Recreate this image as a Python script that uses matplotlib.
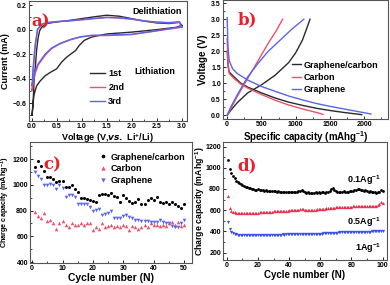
import numpy as np
import matplotlib
matplotlib.use("Agg")
from matplotlib import pyplot as plt
from matplotlib.ticker import AutoMinorLocator

plt.rcParams['font.family'] = ['Liberation Sans', 'DejaVu Sans']
plt.rcParams['font.weight'] = 'bold'
plt.rcParams['axes.labelweight'] = 'bold'
plt.rcParams['mathtext.default'] = 'regular'

# ---- panel a: CV loops (voltage V, current mA) ----
cv_v_1st = [3.0, 2.9, 2.5, 2.0, 1.5, 1.2, 1.05, 0.95, 0.88, 0.78, 0.7, 0.6, 0.5, 0.37, 0.27,
            0.17, 0.1, 0.05, 0.03, 0.01, 0.03, 0.05, 0.08, 0.1, 0.13, 0.16, 0.2, 0.3, 0.5,
            0.75, 1.0, 1.25, 1.5, 1.75, 2.0, 2.25, 2.5, 2.75, 2.95, 3.0]
cv_i_1st = [0.035, 0.02, 0.0, -0.02, -0.035, -0.06, -0.088, -0.13, -0.17, -0.2, -0.225, -0.265,
            -0.32, -0.35, -0.377, -0.42, -0.46, -0.53, -0.6, -0.7, -0.6, -0.42, -0.28, -0.17,
            -0.07, -0.01, 0.02, 0.05, 0.063, 0.075, 0.09, 0.105, 0.118, 0.11, 0.09, 0.07,
            0.055, 0.05, 0.06, 0.035]
cv_v_2nd = [3.0, 2.75, 2.5, 2.0, 1.5, 1.2, 0.98, 0.78, 0.57, 0.4, 0.27, 0.13, 0.07, 0.03, 0.01,
            0.03, 0.07, 0.12, 0.2, 0.3, 0.5, 0.75, 1.0, 1.25, 1.5, 1.75, 2.0, 2.25, 2.5, 2.75,
            2.95, 3.0]
cv_i_2nd = [0.02, 0.005, -0.01, -0.04, -0.048, -0.048, -0.06, -0.082, -0.115, -0.155, -0.21,
            -0.29, -0.36, -0.43, -0.5, -0.35, -0.15, 0.0, 0.04, 0.055, 0.065, 0.072, 0.08, 0.09,
            0.1, 0.095, 0.085, 0.07, 0.06, 0.055, 0.06, 0.02]
cv_v_3rd = [3.0, 2.75, 2.5, 2.0, 1.5, 1.2, 0.98, 0.78, 0.57, 0.4, 0.27, 0.13, 0.07, 0.03, 0.01,
            0.03, 0.07, 0.12, 0.2, 0.3, 0.5, 0.75, 1.0, 1.25, 1.5, 1.75, 2.0, 2.25, 2.5, 2.75,
            2.95, 3.0]
cv_i_3rd = [0.025, 0.008, -0.008, -0.038, -0.045, -0.046, -0.058, -0.08, -0.112, -0.15, -0.2,
            -0.28, -0.34, -0.4, -0.46, -0.32, -0.13, 0.005, 0.045, 0.058, 0.066, 0.072, 0.082,
            0.092, 0.1, 0.097, 0.087, 0.072, 0.062, 0.058, 0.065, 0.025]

# ---- panel b: charge / discharge (capacity mAh/g, voltage V) ----
gc_dis_cap = [0, 15, 30, 100, 200, 300, 500, 700, 900, 1100, 1300, 1500, 1700, 1965]
gc_dis_v = [2.0, 1.5, 1.35, 1.2, 1.0, 0.88, 0.7, 0.54, 0.41, 0.31, 0.22, 0.15, 0.09, 0.02]
gc_chg_cap = [0, 50, 150, 300, 500, 700, 900, 1000, 1100, 1160, 1210]
gc_chg_v = [0.0, 0.15, 0.4, 0.7, 0.95, 1.25, 1.65, 1.95, 2.35, 2.7, 3.0]
c_dis_cap = [0, 10, 30, 100, 200, 300, 500, 700, 900, 1100, 1300, 1400]
c_dis_v = [2.4, 1.7, 1.3, 1.15, 0.97, 0.85, 0.65, 0.47, 0.32, 0.2, 0.09, 0.03]
c_chg_cap = [0, 50, 150, 300, 450, 600, 720, 810]
c_chg_v = [0.0, 0.2, 0.6, 1.15, 1.7, 2.25, 2.65, 3.0]
g_dis_cap = [0, 10, 30, 80, 150, 300, 500, 700, 900, 1100, 1300, 1500, 1700, 1900, 2100]
g_dis_v = [3.05, 2.2, 1.7, 1.45, 1.3, 1.1, 0.9, 0.75, 0.6, 0.48, 0.37, 0.28, 0.2, 0.12, 0.04]
g_chg_cap = [0, 50, 150, 300, 450, 600, 800, 950, 1120]
g_chg_v = [0.0, 0.25, 0.65, 1.2, 1.62, 2.0, 2.4, 2.7, 3.0]

# ---- panel c: cycling at fixed rate ----
cyc50 = list(range(1, 51))
cap_gc = [1140, 1185, 1150, 1110, 1065, 1065, 1045, 1020, 1030, 1030,
          985, 985, 1000, 965, 945, 900, 895, 890, 885, 875,
          870, 920, 930, 930, 925, 940, 915, 905, 870, 920,
          900, 875, 860, 870, 890, 850, 855, 880, 895, 880,
          905, 870, 860, 870, 855, 865, 850, 840, 820, 850]
cap_c = [790, 760, 740, 780, 720, 730, 700, 660, 700, 720,
         690, 670, 700, 685, 690, 700, 690, 700, 705, 650,
         670, 660, 705, 670, 680, 685, 670, 680, 670, 690,
         680, 650, 680, 670, 660, 670, 690, 670, 700, 690,
         690, 680, 690, 680, 700, 710, 690, 710, 680, 690]
cap_g = [1100, 1070, 1050, 1000, 1000, 1010, 1000, 970, 1000, 980,
         910, 920, 925, 910, 855, 855, 855, 855, 830, 800,
         805, 810, 770, 775, 780, 795, 745, 745, 740, 755,
         765, 750, 740, 730, 725, 720, 720, 720, 715, 715,
         715, 725, 710, 705, 700, 680, 675, 675, 700, 725]

# ---- panel d: rate performance over 100 cycles ----
cyc100 = list(range(1, 101))
cap_01 = [1075, 985, 950, 925, 900, 880, 870, 860, 845, 835,
          825, 820, 815, 810, 805, 800, 800, 795, 795, 800,
          790, 795, 790, 785, 790, 785, 780, 785, 780, 778,
          780, 775, 778, 772, 775, 770, 775, 770, 768, 772,
          770, 768, 775, 770, 772, 778, 785, 795, 782, 770,
          765, 768, 762, 760, 765, 760, 768, 762, 770, 765,
          768, 772, 765, 770, 775, 785, 800, 810, 795, 780,
          772, 768, 775, 770, 778, 772, 770, 775, 780, 785,
          780, 790, 795, 800, 798, 792, 788, 785, 790, 780,
          775, 778, 772, 768, 770, 765, 772, 775, 795, 780]
cap_05 = [730, 625, 595, 585, 580, 578, 575, 576, 574, 575,
          576, 575, 574, 576, 575, 574, 573, 572, 574, 575,
          580, 585, 586, 584, 585, 586, 585, 584, 586, 588,
          590, 590, 588, 590, 592, 590, 592, 595, 596, 598,
          598, 600, 600, 602, 603, 605, 608, 612, 608, 605,
          604, 603, 602, 603, 604, 605, 606, 607, 608, 610,
          612, 614, 615, 617, 620, 622, 623, 624, 625, 626,
          627, 628, 628, 629, 630, 631, 632, 632, 633, 634,
          635, 636, 636, 637, 638, 638, 638, 639, 640, 640,
          640, 641, 640, 640, 641, 642, 645, 655, 675, 670]
cap_1 = [485, 420, 395, 385, 378, 373, 370, 368, 366, 365,
         365, 366, 365, 364, 365, 366, 365, 366, 367, 366,
         366, 367, 368, 367, 368, 367, 368, 368, 369, 368,
         369, 369, 370, 369, 370, 371, 370, 371, 372, 371,
         372, 371, 372, 372, 373, 372, 373, 374, 373, 374,
         374, 375, 375, 376, 376, 377, 377, 378, 378, 379,
         380, 381, 382, 384, 386, 387, 388, 388, 388, 389,
         389, 390, 390, 391, 391, 392, 392, 393, 393, 394,
         394, 395, 395, 396, 396, 397, 397, 398, 398, 398,
         399, 399, 400, 401, 401, 402, 403, 404, 406, 408]

BLACK = '#2a2a2a'
RED = '#f0506a'
BLUE = '#5865f0'


def style(ax, fs=5.0):
    ax.tick_params(direction='in', length=2.2, width=0.6, labelsize=fs, pad=1.5)
    ax.tick_params(which='minor', direction='in', length=1.2, width=0.5)
    ax.xaxis.set_minor_locator(AutoMinorLocator(2))
    ax.yaxis.set_minor_locator(AutoMinorLocator(2))
    for s in ax.spines.values():
        s.set_linewidth(0.8)
        s.set_color('#555555')
    for lab in ax.get_xticklabels() + ax.get_yticklabels():
        lab.set_fontweight('bold')


def letter(ax, txt, x, y):
    ax.text(x, y, txt, transform=ax.transAxes, color='#e8202a', fontsize=12,
            fontweight='bold', family='DejaVu Serif', va='center', ha='left')


fig = plt.figure(figsize=(3.9, 2.85), dpi=100)

# a
ax = fig.add_axes([0.074, 0.575, 0.405, 0.421])
ax.plot(cv_v_1st, cv_i_1st, color=BLACK, lw=1.0, label='1st')
ax.plot(cv_v_2nd, cv_i_2nd, color=RED, lw=1.0, label='2nd')
ax.plot(cv_v_3rd, cv_i_3rd, color=BLUE, lw=1.0, label='3rd')
ax.set_xlim(-0.054, 3.1)
ax.set_ylim(-0.747, 0.233)
ax.set_xticks([0.0, 0.5, 1.0, 1.5, 2.0, 2.5, 3.0])
ax.set_yticks([-0.6, -0.4, -0.2, 0.0, 0.2])
style(ax)
ax.set_xlabel('Voltage (V,$\\it{vs.}$ Li$^{+}$/Li)', fontsize=6.5, labelpad=1)
ax.set_ylabel('Current (mA)', fontsize=6.5)
ax.yaxis.set_label_coords(-0.12, 0.5)
ax.legend(loc='upper left', bbox_to_anchor=(0.36, 0.47), frameon=False, fontsize=6.5,
          handlelength=1.6, handletextpad=0.4, borderpad=0, labelspacing=0.55)
ax.text(0.81, 0.91, 'Delithiation', transform=ax.transAxes, fontsize=6.5, ha='center', va='center')
ax.text(0.80, 0.41, 'Lithiation', transform=ax.transAxes, fontsize=6.5, ha='center', va='center')
letter(ax, 'a)', 0.015, 0.83)

# b
ax = fig.add_axes([0.572, 0.582, 0.423, 0.418])
ax.plot(gc_dis_cap, gc_dis_v, color=BLACK, lw=1.0, label='Graphene/carbon')
ax.plot(gc_chg_cap, gc_chg_v, color=BLACK, lw=1.0)
ax.plot(c_dis_cap, c_dis_v, color=RED, lw=1.0, label='Carbon')
ax.plot(c_chg_cap, c_chg_v, color=RED, lw=1.0)
ax.plot(g_dis_cap, g_dis_v, color=BLUE, lw=1.0, label='Graphene')
ax.plot(g_chg_cap, g_chg_v, color=BLUE, lw=1.0)
ax.set_xlim(-60, 2350)
ax.set_ylim(-0.12, 3.6)
ax.set_xticks([0, 500, 1000, 1500, 2000])
ax.set_yticks([0.0, 0.5, 1.0, 1.5, 2.0, 2.5, 3.0, 3.5])
style(ax)
ax.set_xlabel('Specific capacity (mAhg$^{-1}$)', fontsize=7, labelpad=1)
ax.set_ylabel('Voltage (V)', fontsize=7)
ax.yaxis.set_label_coords(-0.09, 0.5)
ax.legend(loc='upper left', bbox_to_anchor=(0.39, 0.53), frameon=False, fontsize=6.5,
          handlelength=1.0, handletextpad=0.3, borderpad=0, labelspacing=0.35)
letter(ax, 'b)', 0.09, 0.83)

# c
ax = fig.add_axes([0.077, 0.077, 0.415, 0.425])
ax.plot(cyc50, cap_gc, 'o', color='black', ms=2.2, mew=0, label='Graphene/carbon')
ax.plot(cyc50, cap_c, '^', color=RED, ms=2.6, mew=0, label='Carbon')
ax.plot(cyc50, cap_g, 'v', color=BLUE, ms=2.6, mew=0, label='Graphene')
ax.set_xlim(-0.7, 52.6)
ax.set_ylim(392, 1335)
ax.set_xticks([0, 10, 20, 30, 40, 50])
ax.set_yticks([400, 600, 800, 1000, 1200])
style(ax)
ax.set_xlabel('Cycle number (N)', fontsize=7.5, labelpad=0.5)
ax.set_ylabel('Charge capacity (mAhg$^{-1}$)', fontsize=5.2)
ax.yaxis.set_label_coords(-0.112, 0.5)
ax.legend(loc='upper left', bbox_to_anchor=(0.40, 0.95), frameon=False, fontsize=6.5,
          handlelength=0.8, handletextpad=0.5, borderpad=0, labelspacing=0.3,
          markerscale=1.2)
letter(ax, 'c)', 0.08, 0.81)

# d
ax = fig.add_axes([0.572, 0.088, 0.42, 0.414])
ax.plot(cyc100, cap_01, 'o', color='black', ms=2.0, mew=0)
ax.plot(cyc100, cap_05, '^', color='#f03050', ms=2.3, mew=0)
ax.plot(cyc100, cap_1, 'v', color='#3a50f0', ms=2.3, mew=0)
ax.set_xlim(-2.4, 102.8)
ax.set_ylim(131, 1244)
ax.set_xticks([0, 20, 40, 60, 80, 100])
ax.set_yticks([200, 400, 600, 800, 1000, 1200])
style(ax)
ax.set_xlabel('Cycle number (N)', fontsize=7, labelpad=0.5)
ax.set_ylabel('Charge capacity (mAhg$^{-1}$)', fontsize=6.3)
ax.yaxis.set_label_coords(-0.1, 0.5)
ax.text(99, 885, '0.1Ag$^{-1}$', fontsize=6.5, ha='right', va='center')
ax.text(99, 491, '0.5Ag$^{-1}$', fontsize=6.5, ha='right', va='center')
ax.text(99, 240, '1Ag$^{-1}$', fontsize=6.5, ha='right', va='center')
letter(ax, 'd)', 0.085, 0.80)

fig.savefig('out.png', dpi=100)
